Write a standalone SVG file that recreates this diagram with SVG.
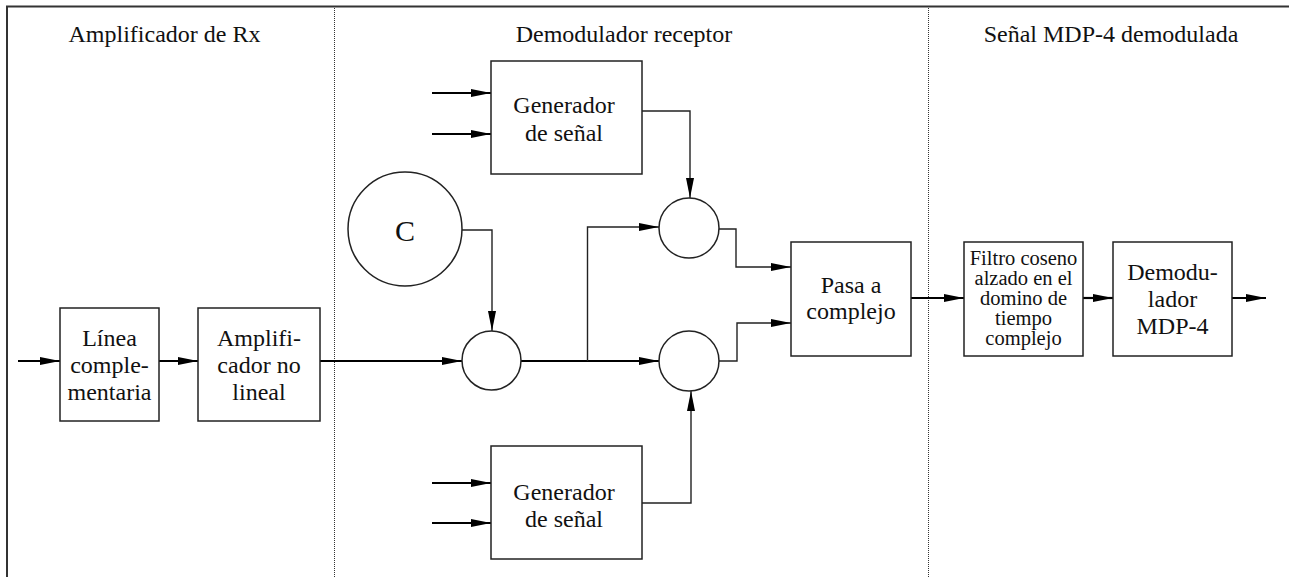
<svg xmlns="http://www.w3.org/2000/svg" width="1289" height="577" viewBox="0 0 1289 577">
<style>
  .box { fill: #fff; stroke: #222; stroke-width: 1.5; }
  .circ { fill: #fff; stroke: #222; stroke-width: 1.5; }
  text { font-family: 'Liberation Serif', Tinos, 'Times New Roman', Times, 'DejaVu Serif', serif; fill: #111; text-anchor: middle; }
  .t { font-size: 24px; }
  .ts { font-size: 20.5px; }
  .tc { font-size: 30px; }
  .thick { fill: none; stroke: #000; stroke-width: 2.2; marker-end: url(#ah); }
  .thin { fill: none; stroke: #222; stroke-width: 1.4; marker-end: url(#ah); }
  .frame { fill: none; stroke: #333; stroke-width: 2; }
  .div { fill: none; stroke: #333; stroke-width: 1; stroke-dasharray: 1 1; }
</style>
<defs>
  <marker id="ah" markerUnits="userSpaceOnUse" markerWidth="20" markerHeight="8" refX="20" refY="4" orient="auto">
    <path d="M0,0 L20,4 L0,8 Z" fill="#000"/>
  </marker>
</defs>
<rect width="1289" height="577" fill="#fff"/>
<g id="frame">
  <path class="frame" d="M7,577 V6.5 H1289"/>
  <line class="div" x1="334.5" y1="8" x2="334.5" y2="577"/>
  <line class="div" x1="928.5" y1="8" x2="928.5" y2="577"/>
</g>
<g id="titles">
  <text class="t" x="164.5" y="42" font-family="Liberation Serif, serif">Amplificador de Rx</text>
  <text class="t" x="624" y="42" font-family="Liberation Serif, serif">Demodulador receptor</text>
  <text class="t" x="1111" y="42" font-family="Liberation Serif, serif">Señal MDP-4 demodulada</text>
</g>
<g id="connectors">
  <path class="thick" d="M18,361 H60"/>
  <path class="thick" d="M159,361 H198"/>
  <path class="thick" d="M320,361 H462"/>
  <path class="thick" d="M521,361 H659"/>
  <path class="thick" d="M432,93 H491"/>
  <path class="thick" d="M432,134 H491"/>
  <path class="thick" d="M432,483 H491"/>
  <path class="thick" d="M432,523 H491"/>
  <path class="thick" d="M911,298 H964"/>
  <path class="thick" d="M1083,298 H1113"/>
  <path class="thick" d="M1232,298 H1266"/>
  <path class="thin" d="M462,230 H492 V331"/>
  <path class="thin" d="M587.5,361 V227 H659"/>
  <path class="thin" d="M642,111 H690 V198"/>
  <path class="thin" d="M642,503 H691 V391"/>
  <path class="thin" d="M719,229 H736 V267 H791"/>
  <path class="thin" d="M719,361 H737 V323 H791"/>
</g>
<g id="linea">
  <rect class="box" x="60" y="308" width="99" height="113"/>
  <text class="t" x="109.5" y="346">Línea</text>
  <text class="t" x="109.5" y="373">comple-</text>
  <text class="t" x="109.5" y="400">mentaria</text>
</g>
<g id="amplificador">
  <rect class="box" x="198" y="308" width="122" height="113"/>
  <text class="t" x="259" y="346">Amplifi-</text>
  <text class="t" x="259" y="373">cador no</text>
  <text class="t" x="259" y="400">lineal</text>
</g>
<g id="generador1">
  <rect class="box" x="491" y="61" width="151" height="113"/>
  <text class="t" x="564" y="113">Generador</text>
  <text class="t" x="564" y="141">de señal</text>
</g>
<g id="generador2">
  <rect class="box" x="491" y="446" width="151" height="113"/>
  <text class="t" x="564" y="500">Generador</text>
  <text class="t" x="564" y="527">de señal</text>
</g>
<g id="oscC">
  <circle class="circ" cx="405" cy="229" r="57"/>
  <text class="tc" x="405" y="241">C</text>
</g>
<g id="mezclador1">
  <circle class="circ" cx="491.5" cy="360.5" r="29.5"/>
</g>
<g id="mezcladorSup">
  <circle class="circ" cx="689" cy="228" r="30"/>
</g>
<g id="mezcladorInf">
  <circle class="circ" cx="689" cy="361" r="30"/>
</g>
<g id="pasa">
  <rect class="box" x="791" y="242" width="120" height="114"/>
  <text class="t" x="851" y="293">Pasa a</text>
  <text class="t" x="851" y="319">complejo</text>
</g>
<g id="filtro">
  <rect class="box" x="964" y="242" width="119" height="114"/>
  <text class="ts" x="1023.5" y="265">Filtro coseno</text>
  <text class="ts" x="1023.5" y="285">alzado en el</text>
  <text class="ts" x="1023.5" y="305">domino de</text>
  <text class="ts" x="1023.5" y="325">tiempo</text>
  <text class="ts" x="1023.5" y="345">complejo</text>
</g>
<g id="demodulador">
  <rect class="box" x="1113" y="242" width="119" height="114"/>
  <text class="t" x="1172.5" y="280">Demodu-</text>
  <text class="t" x="1172.5" y="307">lador</text>
  <text class="t" x="1172.5" y="334">MDP-4</text>
</g>
</svg>
